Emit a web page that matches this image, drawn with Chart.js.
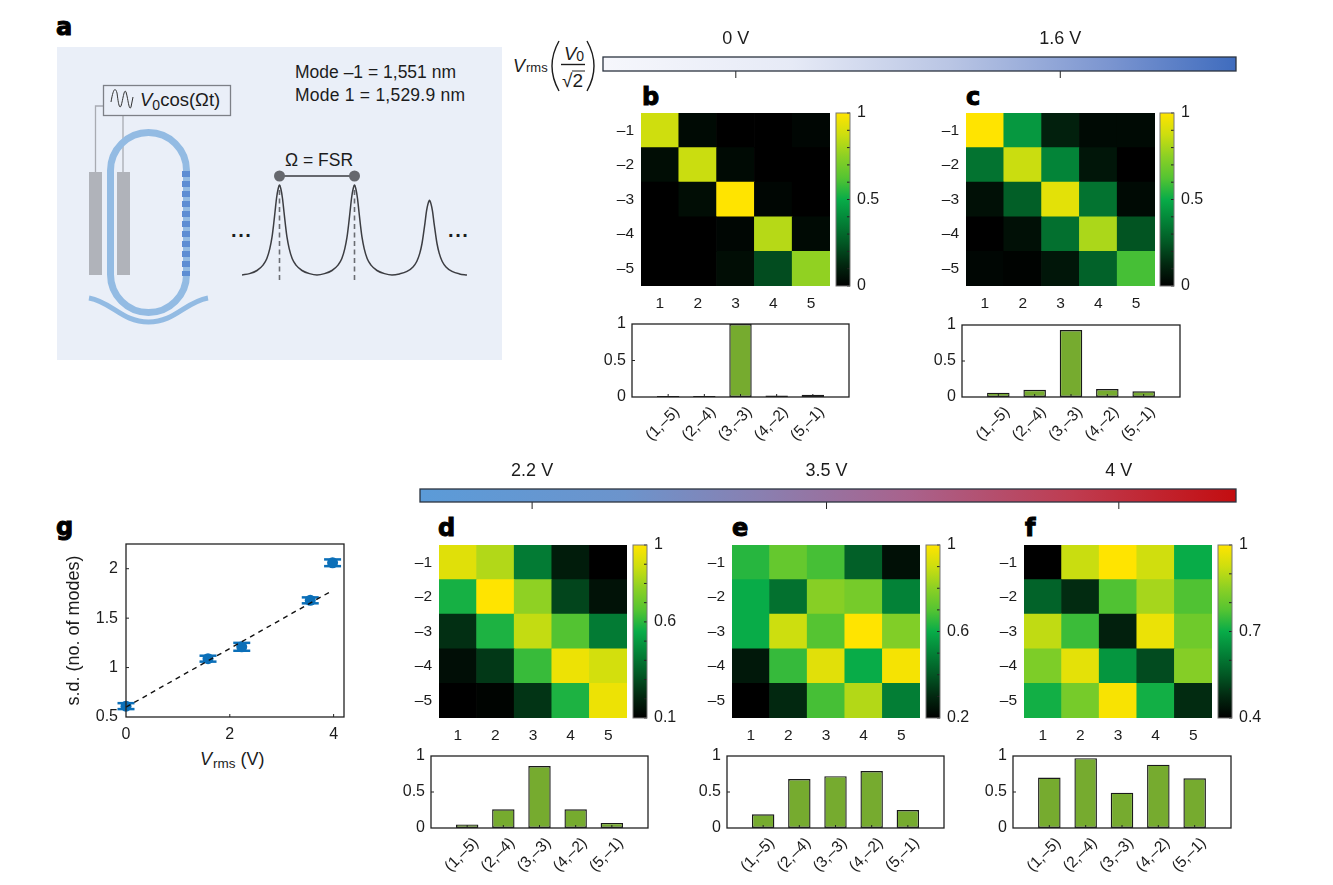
<!DOCTYPE html>
<html><head><meta charset="utf-8">
<script src="https://cdn.jsdelivr.net/npm/chart.js@4"></script>
<style>
html,body{margin:0;padding:0;background:#fff;width:1333px;height:885px;overflow:hidden}
canvas{position:absolute;z-index:2}
svg{position:absolute;left:0;top:0;z-index:1}
svg text{font-family:"Liberation Sans",Arial,sans-serif;fill:#1c1c1c}
svg text.letter{font-family:"DejaVu Sans",sans-serif;font-weight:700;font-size:24px;fill:#000;stroke:#000;stroke-width:1}
</style></head><body>
<svg width="1333" height="885" viewBox="0 0 1333 885">
  <text class="letter" x="56" y="35">a</text>
  <text class="letter" x="642" y="105">b</text>
  <text class="letter" x="966" y="105">c</text>
  <text class="letter" x="438" y="536">d</text>
  <text class="letter" x="732" y="536">e</text>
  <text class="letter" x="1025" y="536">f</text>
  <text class="letter" x="56" y="535">g</text>

  <rect x="57" y="47" width="445" height="313" fill="#eaeff8"/>
  <rect x="89" y="172" width="13" height="103" fill="#b0b3ba"/>
  <rect x="117" y="172" width="13" height="103" fill="#b0b3ba"/>
  <path d="M95.5,172 V106 H103 M123,116 V172" fill="none" stroke="#a8abb2" stroke-width="1.3"/>
  <path d="M110.5,170.5 A38,38 0 0 1 186.5,170.5 V274.5 A38,38 0 0 1 110.5,274.5 Z" fill="none" stroke="#93bbe3" stroke-width="7"/>
  <line x1="186" y1="171" x2="186" y2="276" stroke="#5d8dd3" stroke-width="8" stroke-dasharray="6 4"/>
  <path d="M89,298 C112,302 122,322 148.5,322 C175,322 185,302 208,298" fill="none" stroke="#93bbe3" stroke-width="5"/>
  <rect x="103.5" y="85.5" width="127" height="30" fill="#eaeff8" stroke="#7d8087" stroke-width="1.3"/>
  <path d="M111,102 C113,90 115,86 117,93 C118,100 119,110 121,106 C123,100 124,88 126,92 C128,98 129,112 131,107 C132,104 132,100 133,97" fill="none" stroke="#333" stroke-width="1"/>
  <text x="140" y="106" font-size="18.5"><tspan font-style="italic">V</tspan><tspan font-size="14" dy="4">0</tspan><tspan dy="-4">cos(Ωt)</tspan></text>
  <text x="295" y="78" font-size="17.5">Mode –1 = 1,551 nm</text>
  <text x="295" y="101" font-size="17.5" textLength="170">Mode 1 = 1,529.9 nm</text>
  <text x="285" y="166" font-size="17.5">Ω = FSR</text>
  <text x="231" y="237" font-size="20" font-weight="700" letter-spacing="1.6">...</text>
  <text x="448" y="237" font-size="20" font-weight="700" letter-spacing="1.6">...</text>

  <text x="513" y="72" font-size="18"><tspan font-style="italic">V</tspan><tspan font-size="13" dy="0" dx="1">rms</tspan></text>
  <path d="M559,41 Q545,66 559,91 M587,41 Q601,66 587,91" fill="none" stroke="#1c1c1c" stroke-width="1.4"/>
  <text x="564" y="60" font-size="18.5"><tspan font-style="italic">V</tspan><tspan font-size="14" dy="1">0</tspan></text>
  <line x1="561" y1="64.5" x2="585" y2="64.5" stroke="#1c1c1c" stroke-width="1.4"/>
  <text x="562" y="87" font-size="19">√2</text>
  <line x1="572" y1="71" x2="585" y2="71" stroke="#1c1c1c" stroke-width="1"/>

  <text x="200" y="765" font-size="18"><tspan font-style="italic">V</tspan><tspan font-size="13.5" dy="3" dx="1">rms</tspan><tspan dy="-3"> (V)</tspan></text>
</svg>
<script>
// ---------- data ----------
const colLabels = ['1','2','3','4','5'];
const rowLabels = ['–1','–2','–3','–4','–5'];
const pairLabels = ['', '(1,–5)','(2,–4)','(3,–3)','(4,–2)','(5,–1)', ''];

const heatB = [[.88,.03,0,0,.02],[.04,.87,.03,0,0],[0,.04,1,.02,0],[0,0,.02,.83,.03],[0,0,.04,.22,.76]];
const heatC = [[1,.44,.10,.03,.03],[.33,.87,.38,.07,0],[.05,.27,.93,.33,.03],[0,.05,.32,.81,.24],[.02,.01,.07,.28,.6]];
const heatD = [[.93,.84,.42,.18,.10],[.57,1,.78,.28,.15],[.23,.58,.87,.66,.42],[.14,.25,.62,.96,.90],[.10,.11,.24,.58,.96]];
const heatE = [[.64,.73,.68,.42,.24],[.60,.46,.79,.76,.50],[.60,.90,.70,1,.78],[.26,.66,.94,.60,.98],[.20,.30,.68,.86,.49]];
const heatF = [[.40,.92,1,.93,.70],[.57,.48,.77,.88,.77],[.91,.75,.46,.97,.81],[.83,.96,.66,.53,.84],[.71,.82,.99,.71,.48]];

const barsB = [.015,.015,1,.02,.03];
const barsC = [.06,.10,.93,.11,.08];
const barsD = [.05,.26,.86,.26,.07];
const barsE = [.19,.68,.72,.79,.25];
const barsF = [.70,.97,.49,.88,.69];

const vrms = [0,1.58,2.23,3.55,3.98];
const sdModes = [.61,1.09,1.21,1.68,2.06];
const sdErr = [.03,.03,.04,.03,.034];
const fitX = [0,3.98];
const fitY = [.6,1.78];

const spectrumX = [-.5,-.4,-.3,-.22,-.17,-.13,-.1,-.08,-.06,-.04,-.02,0,.02,.04,.06,.08,.1,.13,.17,.22,.3,.4,.5,.6,.7,.78,.83,.87,.9,.92,.94,.96,.98,1,1.02,1.04,1.06,1.08,1.1,1.13,1.17,1.22,1.3,1.4,1.5,1.6,1.7,1.78,1.83,1.87,1.9,1.92,1.94,1.96,1.98,2,2.02,2.04,2.06,2.08,2.1,2.13,2.17,2.22,2.3,2.4,2.5];
const spectrumY = [0,.015,.05,.11,.18,.29,.42,.55,.7,.85,.95,1,.95,.85,.7,.55,.42,.29,.18,.11,.05,.015,0,.015,.05,.11,.18,.29,.42,.55,.7,.85,.95,1,.95,.85,.7,.55,.42,.29,.18,.11,.05,.015,0,.012,.04,.09,.15,.24,.35,.46,.58,.71,.79,.83,.79,.71,.58,.46,.35,.24,.15,.09,.04,.012,0];
const fsrMarks = [0,1];

const voltLabelsTop = ['0 V','1.6 V'];
const voltPosTop = [.2098,.7224];
const voltLabelsBottom = ['2.2 V','3.5 V','4 V'];
const voltPosBottom = [.1374,.4982,.8564];

// ---------- colours ----------
const heatStops = [[0,[0,0,0]],[.125,[2,40,16]],[.25,[2,88,36]],[.375,[3,130,55]],[.5,[8,172,72]],[.625,[85,196,50]],[.75,[140,208,36]],[.875,[205,222,15]],[1,[255,228,0]]];
function heatColor(t){
  t=Math.max(0,Math.min(1,t));
  for(let i=1;i<heatStops.length;i++){
    if(t<=heatStops[i][0]){
      const [a,ca]=heatStops[i-1],[b,cb]=heatStops[i],f=(t-a)/(b-a);
      return `rgb(${ca.map((c,k)=>Math.round(c+(cb[k]-c)*f)).join(',')})`;
    }
  }
  return 'rgb(255,228,0)';
}
const INK='#1c1c1c', FONT='"Liberation Sans", Arial, sans-serif';
Chart.defaults.font.family=FONT; Chart.defaults.color=INK; Chart.defaults.animation=false;

Chart.register({id:'deco',afterDatasetsDraw(chart,a,o){
  const c=chart.ctx, A=chart.chartArea; c.save();
  (o.ticks||[]).forEach(t=>{
    const s=chart.scales[t.scale]; c.strokeStyle=t.color||'#222'; c.lineWidth=t.width||1;
    t.values.forEach(v=>{
      const p=s.getPixelForValue(v); c.beginPath();
      if(s.isHorizontal()){const y=t.edge==='top'?A.top:A.bottom; c.moveTo(p,y); c.lineTo(p,y+t.len);}
      else{const x=t.edge==='right'?A.right:A.left; c.moveTo(x,p); c.lineTo(x+t.len,p);}
      c.stroke();
    });
  });
  if(o.frame){c.strokeStyle=o.frame.color;c.lineWidth=o.frame.width;c.strokeRect(A.left,A.top,A.right-A.left,A.bottom-A.top);}
  c.restore();
}});

function mk(rect,m,cfg){
  const cv=document.createElement('canvas');
  const W=rect.r-rect.l+m.l+m.r, H=rect.b-rect.t+m.t+m.b;
  cv.width=W;cv.height=H;cv.style.left=(rect.l-m.l)+'px';cv.style.top=(rect.t-m.t)+'px';cv.style.width=W+'px';cv.style.height=H+'px';
  document.body.appendChild(cv);
  cfg.options=Object.assign({responsive:false,maintainAspectRatio:false,devicePixelRatio:1,animation:false},cfg.options);
  cfg.options.plugins=Object.assign({legend:{display:false},tooltip:{enabled:false}},cfg.options.plugins);
  const sides=Object.values(cfg.options.scales).filter(s=>s.display!==false).map(s=>s.position);
  cfg.options.layout={autoPadding:false,padding:{left:sides.includes('left')?0:m.l,right:sides.includes('right')?0:m.r,top:sides.includes('top')?0:m.t,bottom:sides.includes('bottom')?0:m.b}};
  Object.values(cfg.options.scales).forEach(s=>{
    if(s.display===false) return;
    s.afterFit=x=>{ if(s.position==='left')x.width=m.l; if(s.position==='right')x.width=m.r; if(s.position==='bottom')x.height=m.b; if(s.position==='top')x.height=m.t; };
  });
  return new Chart(cv.getContext('2d'),cfg);
}
const noGrid={grid:{display:false,drawTicks:false},border:{display:false}};

function heatmap(rect,values,vmin){
  const datasets=[4,3,2,1,0].map(r=>({
    label:rowLabels[r],
    data:colLabels.map(()=>1),
    heat:values[r],
    backgroundColor:values[r].map(v=>heatColor((v-vmin)/(1-vmin))),
    barPercentage:1,categoryPercentage:1,borderWidth:0
  }));
  mk(rect,{l:40,r:24,t:24,b:32},{type:'bar',data:{labels:colLabels,datasets},options:{scales:{
    x:{position:'bottom',stacked:true,...noGrid,ticks:{font:{size:15.5},padding:8,maxRotation:0,autoSkip:false}},
    y:{display:false,stacked:true,min:0,max:5},
    yRows:{type:'category',labels:rowLabels,position:'left',offset:true,...noGrid,ticks:{font:{size:15.5},padding:7,autoSkip:false}}
  }}});
}
function colorbar(rect,vmin,labels){
  const minor=[]; for(let i=10;i>=Math.round(vmin*10);i--) minor.push(i/10);
  mk(rect,{l:4,r:44,t:24,b:24},{type:'bar',data:{labels:[''],datasets:[{data:[[vmin,1]],barPercentage:1,categoryPercentage:1,borderWidth:0,
    backgroundColor(c){const a=c.chart.chartArea; if(!a) return '#000';
      const g=c.chart.ctx.createLinearGradient(0,a.bottom,0,a.top); heatStops.forEach(s=>g.addColorStop(s[0],`rgb(${s[1].join(',')})`)); return g;}
  }]},options:{scales:{
    x:{display:false},
    y:{position:'right',min:vmin,max:1,...noGrid,
      afterBuildTicks(s){s.ticks=labels.map(v=>({value:v}));},
      ticks:{font:{size:16},padding:7,callback:v=>String(v)}}
  },plugins:{deco:{frame:{color:'#777',width:1},ticks:[{scale:'y',values:minor,edge:'right',len:-3,color:'#222'}]}}}});
}
function bars(rect,values){
  mk(rect,{l:34,r:26,t:24,b:56},{type:'bar',data:{labels:pairLabels,datasets:[{data:[null,...values,null],backgroundColor:'#76ab2f',borderColor:'#1a1a1a',borderWidth:1.4,borderSkipped:false,barPercentage:.62,categoryPercentage:1}]},
    options:{scales:{
      x:{position:'bottom',offset:false,...noGrid,ticks:{font:{size:15.5},padding:6,minRotation:45,maxRotation:45,autoSkip:false,labelOffset:9}},
      y:{position:'left',min:0,max:1,...noGrid,afterBuildTicks(s){s.ticks=[0,.5,1].map(v=>({value:v}));},ticks:{font:{size:16},padding:6,callback:v=>String(v)}}
    },plugins:{deco:{frame:{color:'#222',width:1.3},ticks:[{scale:'x',values:[1,2,3,4,5],edge:'bottom',len:-3},{scale:'y',values:[.5],edge:'left',len:3}]}}}});
}
function voltBar(rect,stops,pos,labels){
  mk(rect,{l:2,r:3,t:30,b:10},{type:'bar',data:{labels:[''],datasets:[{data:[1],barPercentage:1,categoryPercentage:1,borderWidth:0,
    backgroundColor(c){const a=c.chart.chartArea; if(!a) return '#888';
      const g=c.chart.ctx.createLinearGradient(a.left,0,a.right,0); stops.forEach(s=>g.addColorStop(s[0],s[1])); return g;}
  }]},options:{indexAxis:'y',scales:{
    x:{position:'top',min:0,max:1,...noGrid,afterBuildTicks(s){s.ticks=pos.map(v=>({value:v}));},
      ticks:{font:{size:18},padding:7,autoSkip:false,maxRotation:0,callback:(v,i)=>labels[i]}},
    y:{display:false}
  },plugins:{deco:{frame:{color:'#2c3440',width:1.3},ticks:[{scale:'x',values:pos,edge:'bottom',len:7,color:'#222'}]}}}});
}

// ---------- panels ----------
voltBar({l:603,r:1236,t:57,b:71},[[0,'#f6f7fc'],[.3,'#e6eaf6'],[.55,'#b9c5e4'],[.8,'#7b95d0'],[1,'#3f6cbe']],voltPosTop,voltLabelsTop);
voltBar({l:420,r:1236,t:489,b:502},[[0,'#5b9bd8'],[.25,'#6c94cc'],[.42,'#8a7fb0'],[.6,'#a9628c'],[.8,'#bf3c50'],[1,'#c30d10']],voltPosBottom,voltLabelsBottom);

heatmap({l:641,r:830,t:113,b:286},heatB,0);   colorbar({l:836,r:850,t:113,b:286},0,[0,.5,1]);
heatmap({l:966,r:1155,t:113,b:286},heatC,0);  colorbar({l:1160,r:1174,t:113,b:286},0,[0,.5,1]);
heatmap({l:439,r:627,t:545,b:718},heatD,.1);  colorbar({l:633,r:647,t:545,b:718},.1,[.1,.6,1]);
heatmap({l:732,r:920,t:545,b:718},heatE,.2);  colorbar({l:926,r:940,t:545,b:718},.2,[.2,.6,1]);
heatmap({l:1024,r:1212,t:545,b:718},heatF,.4);colorbar({l:1218,r:1232,t:545,b:718},.4,[.4,.7,1]);

bars({l:632,r:849,t:324,b:397},barsB);
bars({l:962,r:1180,t:325,b:397},barsC);
bars({l:431,r:648,t:756,b:828},barsD);
bars({l:727,r:944,t:756,b:828},barsE);
bars({l:1013,r:1231,t:756,b:828},barsF);

// spectrum in panel a
mk({l:241.5,r:466.5,t:167,b:284},{l:4,r:4,t:6,b:6},{type:'scatter',data:{datasets:[
  {data:spectrumX.map((x,i)=>({x,y:spectrumY[i]})),showLine:true,borderColor:'#3c3d42',borderWidth:1.5,pointRadius:0,cubicInterpolationMode:'monotone'},
  ...fsrMarks.map(x=>({data:[{x,y:-.055},{x,y:1}],showLine:true,borderColor:'#6a6c72',borderWidth:1.6,borderDash:[5,3.5],pointRadius:0})),
  {data:fsrMarks.map(x=>({x,y:1.1})),showLine:true,borderColor:'#66686e',borderWidth:2,pointRadius:4.5,pointBackgroundColor:'#66686e',pointBorderColor:'#66686e',clip:false}
]},options:{scales:{x:{display:false,min:-.5,max:2.5},y:{display:false,min:-.1,max:1.2}}}});

// panel g
const blue='#0b6fb8';
mk({l:126,r:344,t:544,b:717},{l:66,r:14,t:24,b:30},{type:'scatter',data:{datasets:[
  {data:fitX.map((x,i)=>({x,y:fitY[i]})),showLine:true,borderColor:'#111',borderWidth:1.4,borderDash:[5,4.5],pointRadius:0,order:0,clip:false},
  {data:vrms.map((x,i)=>({x,y:sdModes[i]+sdErr[i]})),pointStyle:'line',pointRadius:8.5,pointBorderWidth:2.5,pointBorderColor:blue,order:2,clip:false},
  {data:vrms.map((x,i)=>({x,y:sdModes[i]-sdErr[i]})),pointStyle:'line',pointRadius:8.5,pointBorderWidth:2.5,pointBorderColor:blue,order:2,clip:false},
  {data:vrms.map((x,i)=>({x,y:sdModes[i]})),pointRadius:5.5,pointBackgroundColor:blue,pointBorderColor:blue,pointBorderWidth:0,order:1,clip:false}
]},options:{scales:{
  x:{position:'bottom',min:0,max:4.2,...noGrid,afterBuildTicks(s){s.ticks=[0,2,4].map(v=>({value:v}));},ticks:{font:{size:16},padding:8,callback:v=>String(v),maxRotation:0}},
  y:{position:'left',min:.5,max:2.25,...noGrid,afterBuildTicks(s){s.ticks=[.5,1,1.5,2].map(v=>({value:v}));},ticks:{font:{size:16},padding:8,callback:v=>String(v)},
     title:{display:true,text:'s.d. (no. of modes)',font:{size:18},color:INK,padding:{top:3,bottom:0}}}
},plugins:{deco:{frame:{color:'#222',width:1.3},ticks:[{scale:'x',values:[2,4],edge:'bottom',len:-3},{scale:'y',values:[1,1.5,2],edge:'left',len:3}]}}}});
</script>
</body></html>
